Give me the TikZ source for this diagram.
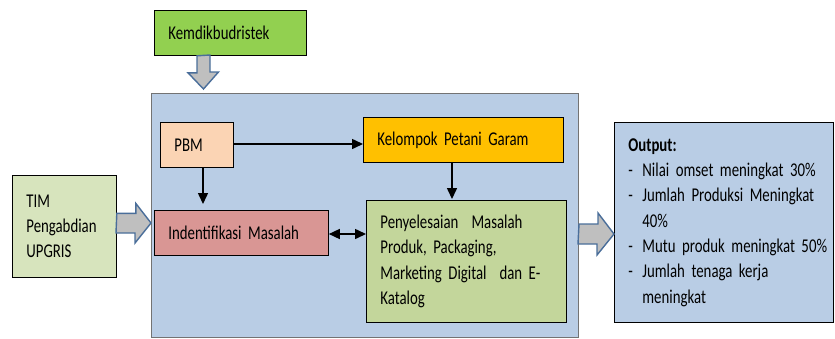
\documentclass[tikz,border=0pt]{standalone}
\usepackage{fontspec}
\setmainfont{Carlito}[FakeStretch=0.76,WordSpace=0.8]
\usetikzlibrary{arrows.meta,calc}
\definecolor{kemc}{HTML}{92D050}
\definecolor{pbmc}{HTML}{FBD4B4}
\definecolor{kelc}{HTML}{FFC000}
\definecolor{indc}{HTML}{D99694}
\definecolor{penc}{HTML}{C3D69B}
\definecolor{timc}{HTML}{D7E4BD}
\definecolor{bluec}{HTML}{B9CDE5}
\definecolor{arrgray}{HTML}{BFBFBF}
\definecolor{arrblue}{HTML}{4A6E9A}
\newcommand\myboxfont{\fontsize{19.5}{25.3}\selectfont}
\newcommand\ind{\hspace*{14pt}}
\begin{document}
\begin{tikzpicture}[x=1pt,y=-1pt,
  box/.style={draw=black,line width=0.8pt,anchor=north west,inner xsep=0pt,inner ysep=0pt,align=left,
    font=\myboxfont},
  blockarrow/.style={draw=arrblue,fill=arrgray,line width=1.4pt,line join=miter},
  flow/.style={line width=1.5pt,-{Triangle[length=11pt,width=10pt]}},
  both/.style={line width=1.5pt,{Triangle[length=11pt,width=10pt]}-{Triangle[length=11pt,width=10pt]}}]
\useasboundingbox (0,0) rectangle (835,338);
% main container
\node[draw=black!55,line width=0.8pt,fill=bluec,anchor=north west,minimum width=427pt,minimum height=244pt,inner sep=0pt] (main) at (151,93) {};
% boxes
\node[box,fill=kemc,minimum height=45pt,text width=152pt] (kem) at (154,10) {\ind Kemdikbudristek};
\node[box,fill=pbmc,minimum height=45pt,text width=73pt] (pbm) at (160,122) {\ind PBM};
\node[box,fill=kelc,minimum height=45pt,text width=200pt] (kel) at (363,117) {\ind Kelompok Petani Garam};
\node[box,fill=indc,minimum height=45pt,text width=174pt] (ind) at (154,210) {\ind Indentifikasi Masalah};
\node[box,fill=penc,minimum height=122pt,text width=200pt] (pen) at (366,200) {\ind Penyelesaian\ \ Masalah\\\ind Produk, Packaging,\\\ind Marketing Digital\ \ dan E-\\\ind Katalog};
\node[box,fill=timc,minimum height=102pt,text width=104pt] (tim) at (12,175) {\ind TIM\\\ind Pengabdian\\\ind UPGRIS};
\node[box,fill=bluec,minimum height=200pt,text width=219pt] (out) at (614,122) {\ind\textbf{Output:}\\
\ind\makebox[14pt][l]{-}Nilai omset meningkat 30\%\\
\ind\makebox[14pt][l]{-}Jumlah Produksi Meningkat\\
\ind\hspace*{14pt}40\%\\
\ind\makebox[14pt][l]{-}Mutu produk meningkat 50\%\\
\ind\makebox[14pt][l]{-}Jumlah tenaga kerja\\
\ind\hspace*{14pt}meningkat};
% block arrows
\coordinate (dtip) at (203.5,89);
\draw[blockarrow] ($(kem.south west)+(43,0)$) -- ++(0,17) -- ++(-9,0) -- (dtip) -- ++(15,-17) -- ++(-8.5,0) -- ++(0,-17) -- cycle;
\coordinate (rtip) at (main.west |- 0,223);
\draw[blockarrow] ($(tim.east)+(0,-13)$) -- ++(19,0) -- ++(0,-10) -- (rtip) -- ++(-16,20) -- ++(0,-10) -- ++(-19,0) -- cycle;
\coordinate (otip) at (614,234);
\draw[blockarrow] (579,224) -- ++(19,0) -- ++(0,-11) -- (otip) -- ++(-17,21) -- ++(0,-11) -- ++(-19,0) -- cycle;
% flow arrows
\draw[flow] (pbm.east |- 0,144) -- (kel.west |- 0,144);
\draw[flow] (pbm.south -| 203,0) -- (203,204);
\draw[flow] (kel.south -| 452,0) -- (452,199);
\draw[both] (ind.east |- 0,234) -- (pen.west |- 0,234);
\end{tikzpicture}
\end{document}
